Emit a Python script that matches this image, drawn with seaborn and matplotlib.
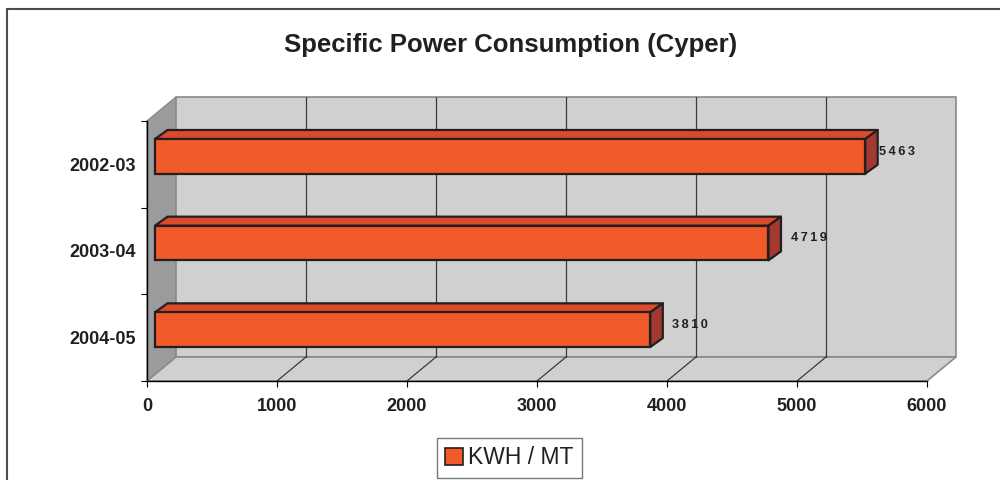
import matplotlib
matplotlib.use("Agg")
import matplotlib.pyplot as plt
import pandas as pd
import seaborn as sns
from matplotlib.patches import Polygon, Patch
from matplotlib.lines import Line2D

# ---- data ----
years = ["2002-03", "2003-04", "2004-05"]
kwh_per_mt = [5463, 4719, 3810]
series_name = "KWH / MT"
title = "Specific Power Consumption (Cyper)"
x_ticks = [0, 1000, 2000, 3000, 4000, 5000, 6000]

# ---- colours ----
FRONT = "#f15a29"
TOP = "#d94b2b"
SIDE = "#a33a32"
EDGE = "#231f20"
WALL = "#d0d0d0"
SIDE_WALL = "#9b9b9d"
WALL_EDGE = "#8a8a8a"
TEXT = "#231f20"

# gap (px) between each bar's end face and its value label
label_gap_px = [1, 10, 9]

sns.set_theme(style="white")
plt.rcParams["font.family"] = ["Liberation Sans", "DejaVu Sans"]

fig = plt.figure(figsize=(10, 4.8), dpi=100)
ax = fig.add_axes([0.147, 0.20625, 0.78, 0.54167])
ax.set_facecolor("none")

df = pd.DataFrame({"year": years, "value": kwh_per_mt})
sns.barplot(data=df, x="value", y="year", orient="h", width=0.4,
            color=FRONT, saturation=1, edgecolor=EDGE, linewidth=1.6,
            ax=ax, zorder=4)

ax.set_xlim(x_ticks[0], x_ticks[-1])
ax.set_ylim(len(years) - 0.5, -0.5)

# pixel -> data unit helpers (axes is 780 x 260 px)
ppx = 780 / (x_ticks[-1] - x_ticks[0])
ppy = 260 / len(years)
def dx(px):
    return px / ppx
def dy(px):
    return px / ppy

xmin, xmax = x_ticks[0], x_ticks[-1]
ytop, ybot = -0.5, len(years) - 0.5
WX, WY = dx(29), dy(24)          # wall depth
OX, OY = dx(8), dy(8)            # bar front offset
DX, DY = dx(12.5), dy(9)         # bar depth

# ---- 3D box: side wall, back wall, floor ----
side_wall = Polygon([(xmin, ytop), (xmin + WX, ytop - WY), (xmin + WX, ybot - WY), (xmin, ybot)],
                    closed=True, facecolor=SIDE_WALL, edgecolor=WALL_EDGE, lw=1, zorder=0.5, clip_on=False)
back_wall = Polygon([(xmin + WX, ytop - WY), (xmax + WX, ytop - WY), (xmax + WX, ybot - WY), (xmin + WX, ybot - WY)],
                    closed=True, facecolor=WALL, edgecolor=WALL_EDGE, lw=1.2, zorder=0.5, clip_on=False)
floor = Polygon([(xmin, ybot), (xmax, ybot), (xmax + WX, ybot - WY), (xmin + WX, ybot - WY)],
                closed=True, facecolor=WALL, edgecolor=WALL_EDGE, lw=1.2, zorder=0.6, clip_on=False)
for p in (side_wall, back_wall, floor):
    ax.add_patch(p)

# gridlines on the back wall and their floor diagonals
for t in x_ticks[1:-1]:
    ax.plot([t + WX, t + WX], [ytop - WY, ybot - WY], color="#3a3a3a", lw=0.9, zorder=1, clip_on=False)
    ax.plot([t, t + WX], [ybot, ybot - WY], color="#3a3a3a", lw=0.9, zorder=1, clip_on=False)

# ---- 3D bars ----
bars = [p for p in ax.patches if p not in (side_wall, back_wall, floor)]
for bar, val, gap in zip(bars, kwh_per_mt, label_gap_px):
    x0 = bar.get_x() + OX
    y0 = bar.get_y() - OY
    w, h = bar.get_width(), bar.get_height()
    bar.set_xy((x0, y0))
    x1 = x0 + w
    top = Polygon([(x0, y0), (x1, y0), (x1 + DX, y0 - DY), (x0 + DX, y0 - DY)],
                  closed=True, facecolor=TOP, edgecolor=EDGE, lw=1.6, zorder=3.9,
                  joinstyle="round", clip_on=False)
    side = Polygon([(x1, y0), (x1, y0 + h), (x1 + DX, y0 + h - DY), (x1 + DX, y0 - DY)],
                   closed=True, facecolor=SIDE, edgecolor=EDGE, lw=1.6, zorder=3.9,
                   joinstyle="round", clip_on=False)
    ax.add_patch(top)
    ax.add_patch(side)
    ax.text(x1 + DX + dx(gap), y0 + h / 2 - DY / 2, "\u2009".join(str(val)),
            ha="left", va="center", fontsize=9.2, fontweight="bold", color=TEXT, zorder=5)

# ---- axes, ticks, labels ----
for s in ("top", "right"):
    ax.spines[s].set_visible(False)
for s in ("left", "bottom"):
    ax.spines[s].set_color("black")
    ax.spines[s].set_linewidth(1.0)
    ax.spines[s].set_zorder(2)

ax.set_xticks(x_ticks)
ax.set_xticklabels([str(t) for t in x_ticks], fontsize=13, fontweight="bold", color=TEXT)
ax.set_yticks(range(len(years)))
ax.set_yticklabels(years, fontsize=13, fontweight="bold", color=TEXT)
ax.set_yticks([i - 0.5 for i in range(len(years) + 1)], minor=True)
ax.tick_params(axis="x", which="major", bottom=True, length=4, width=0.8, color="black", pad=8)
ax.tick_params(axis="y", which="major", left=True, length=0, pad=8)
ax.tick_params(axis="y", which="minor", left=True, length=4, width=0.8, color="black")
ax.set_xlabel("")
ax.set_ylabel("")

fig.text(0.5105, 1 - 45 / 480, title, ha="center", va="center",
         fontsize=18.5, fontweight="bold", color=TEXT)

leg = fig.legend(handles=[Patch(facecolor=FRONT, edgecolor=EDGE, linewidth=1.2, label=series_name)],
                 loc="center", bbox_to_anchor=(0.5095, 1 - 458 / 480), frameon=True, fancybox=False,
                 edgecolor="#555555", fontsize=16.5, handlelength=0.75, handleheight=0.75,
                 handletextpad=0.25, borderpad=0.38, borderaxespad=0)
leg.get_frame().set_linewidth(1.0)
for t in leg.get_texts():
    t.set_color(TEXT)

# outer chart border
fig.add_artist(Line2D([0.007, 1.0], [1 - 9 / 480, 1 - 9 / 480], transform=fig.transFigure,
                      color="#4d4d4d", lw=1.5))
fig.add_artist(Line2D([0.007, 0.007], [0.0, 1 - 9 / 480], transform=fig.transFigure,
                      color="#4d4d4d", lw=1.5))

fig.savefig("out.png", dpi=100, facecolor="white")
